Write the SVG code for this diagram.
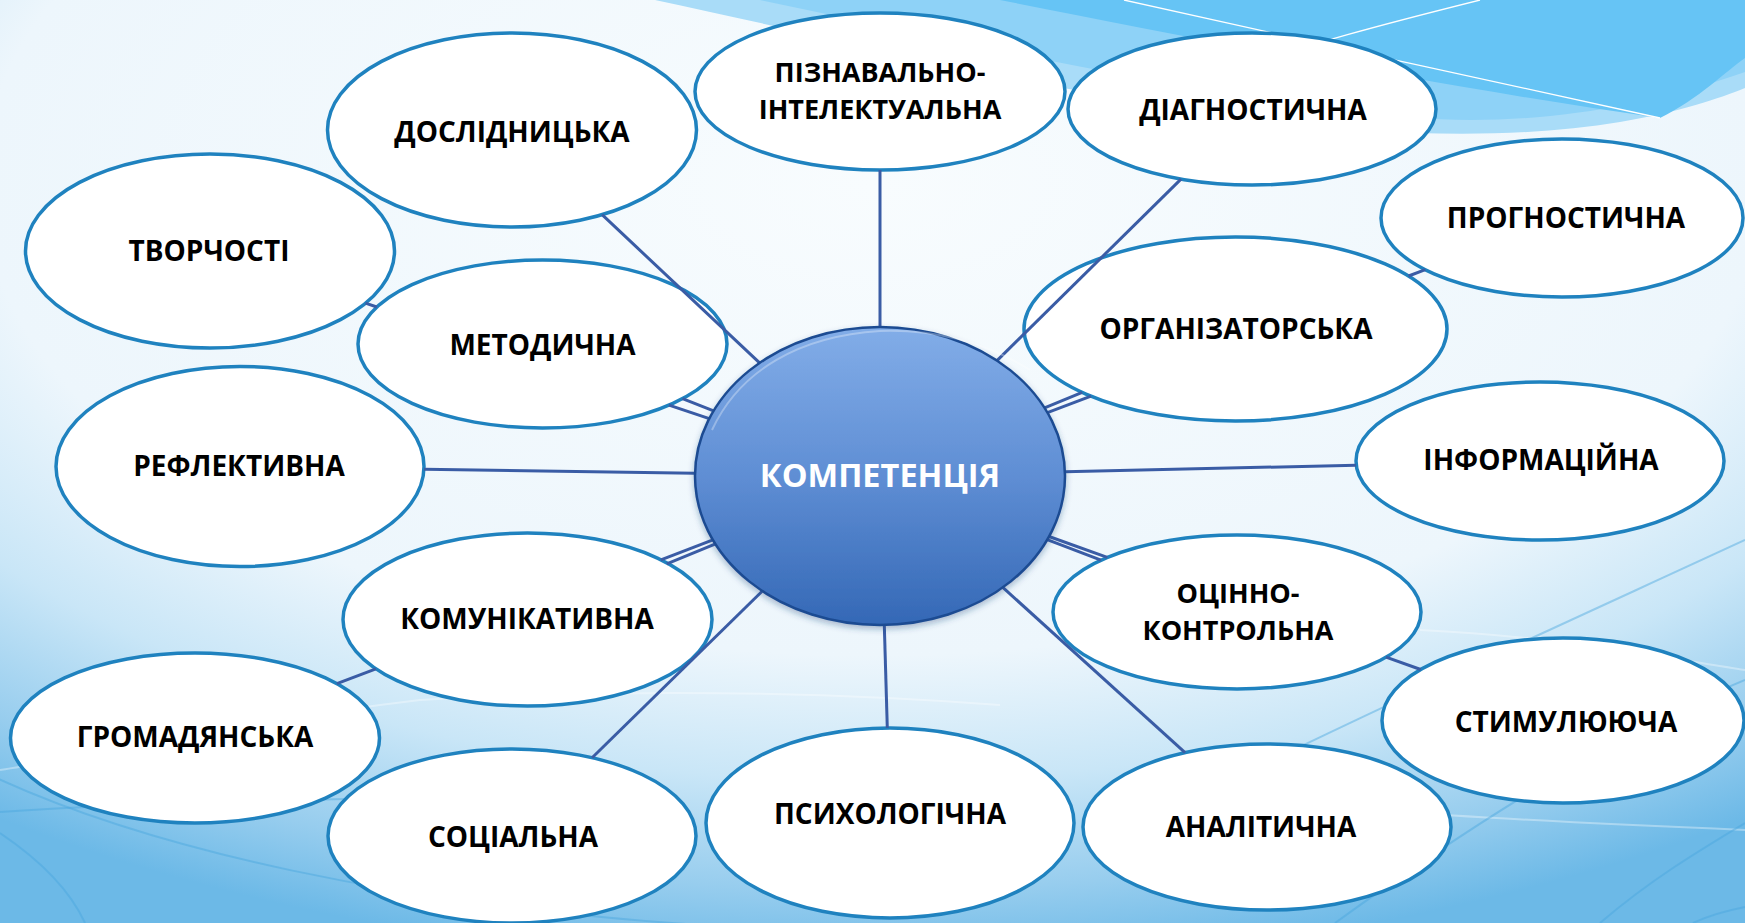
<svg xmlns="http://www.w3.org/2000/svg" width="1745" height="923" viewBox="0 0 1745 923">
<defs>
<style>
.node ellipse{fill:#ffffff;stroke:#1f82bf;stroke-width:3.5}
.lbl{font-family:"Open Sans","DejaVu Sans",sans-serif;font-weight:700;font-size:28px;fill:#000000;text-anchor:middle}
.lbl2{font-size:27px}
.conn line{stroke:#3a5ca5;stroke-width:3;stroke-linecap:butt}
.bgl{fill:none;stroke:#4aa6dd;stroke-width:2;opacity:0.45}
.bgw{fill:none;stroke:#ffffff;stroke-width:2;opacity:0.35}
</style>
<radialGradient id="bg" cx="0.5" cy="0.2" r="0.85">
<stop offset="0" stop-color="#f8fcfe"/>
<stop offset="0.6" stop-color="#edf6fc"/>
<stop offset="0.76" stop-color="#c9e6f7"/>
<stop offset="0.9" stop-color="#97cdee"/>
<stop offset="1" stop-color="#6cb9e7"/>
</radialGradient>
<linearGradient id="cg" x1="0" y1="0" x2="0" y2="1">
<stop offset="0" stop-color="#82ade8"/>
<stop offset="0.5" stop-color="#5f8ed4"/>
<stop offset="1" stop-color="#3468b6"/>
</linearGradient>
<filter id="sh" x="-10%" y="-10%" width="120%" height="125%">
<feDropShadow dx="0" dy="3" stdDeviation="3" flood-color="#1a3f7a" flood-opacity="0.35"/>
</filter>
</defs>

<g id="background">
<rect x="0" y="0" width="1745" height="923" fill="url(#bg)"/>
<path d="M655,0 C820,35 1000,80 1200,112 C1350,135 1500,142 1620,122 C1680,112 1720,98 1745,88 L1745,0 Z" fill="#a9dcf8"/>
<path d="M760,0 C950,40 1150,85 1350,112 C1480,128 1600,122 1745,72 L1745,0 Z" fill="#8ed2f7"/>
<path d="M1000,0 C1200,40 1450,88 1660,118 C1700,98 1725,72 1745,58 L1745,0 Z" fill="#66c4f5"/>
<path d="M1124,0 C1300,40 1500,82 1660,118" fill="none" stroke="#ffffff" stroke-width="1.3"/>
<path d="M1200,82 C1300,45 1400,20 1480,0" fill="none" stroke="#ffffff" stroke-width="1.3"/>
<path class="bgw" d="M0,770 C100,755 250,720 420,700 C600,690 800,690 1000,705"/>
<path class="bgl" d="M-10,775 C150,850 400,905 700,925"/>
<path class="bgl" d="M0,812 C120,804 260,800 420,798"/>
<path class="bgl" d="M0,833 C40,860 70,890 85,923"/>
<path class="bgl" d="M1150,820 C1350,720 1550,630 1745,540"/>
<path class="bgw" d="M1420,630 C1550,636 1650,655 1745,670"/>
<path class="bgw" d="M1150,790 C1350,812 1550,822 1745,830"/>
<path class="bgl" d="M1600,923 C1650,880 1700,850 1745,823"/>
<path class="bgl" d="M1693,923 C1710,915 1730,910 1745,907"/>
<path class="bgl" d="M1335,923 C1450,840 1600,740 1745,680"/>
</g>

<g id="node-tvorchosti" class="node"><ellipse cx="210" cy="251" rx="184.5" ry="97"/><text class="lbl" x="209" y="260.5">ТВОРЧОСТІ</text></g>
<g id="node-doslidnytska" class="node"><ellipse cx="512" cy="130" rx="184.5" ry="97"/><text class="lbl" x="512" y="141.5">ДОСЛІДНИЦЬКА</text></g>
<g id="node-piznavalno" class="node"><ellipse cx="880" cy="91.5" rx="185" ry="78.5"/><text class="lbl lbl2" x="880" y="82">ПІЗНАВАЛЬНО-<tspan x="880" dy="37">ІНТЕЛЕКТУАЛЬНА</tspan></text></g>
<g id="node-diahnostychna" class="node"><ellipse cx="1252" cy="109" rx="184" ry="76"/><text class="lbl" x="1253" y="120">ДІАГНОСТИЧНА</text></g>
<g id="node-prohnostychna" class="node"><ellipse cx="1562" cy="218" rx="181" ry="79"/><text class="lbl" x="1566" y="227.5">ПРОГНОСТИЧНА</text></g>
<g id="node-metodychna" class="node"><ellipse cx="542.5" cy="344" rx="184.5" ry="84"/><text class="lbl" x="542.5" y="354.5">МЕТОДИЧНА</text></g>
<g id="node-orhanizatorska" class="node"><ellipse cx="1235.5" cy="329" rx="211.5" ry="92"/><text class="lbl" x="1236" y="338.5">ОРГАНІЗАТОРСЬКА</text></g>
<g id="node-reflektyvna" class="node"><ellipse cx="240" cy="466.5" rx="184" ry="100"/><text class="lbl" x="239" y="476">РЕФЛЕКТИВНА</text></g>
<g id="node-informatsiina" class="node"><ellipse cx="1540" cy="461" rx="184" ry="79"/><text class="lbl" x="1541" y="470">ІНФОРМАЦІЙНА</text></g>
<g id="node-komunikatyvna" class="node"><ellipse cx="527.5" cy="619.5" rx="184.5" ry="86.5"/><text class="lbl" x="527" y="629">КОМУНІКАТИВНА</text></g>
<g id="node-otsinno" class="node"><ellipse cx="1237" cy="612" rx="184" ry="77"/><text class="lbl lbl2" x="1238" y="603">ОЦІННО-<tspan x="1238" dy="37">КОНТРОЛЬНА</tspan></text></g>
<g id="node-hromadianska" class="node"><ellipse cx="195" cy="738" rx="184.5" ry="85"/><text class="lbl" x="195" y="747">ГРОМАДЯНСЬКА</text></g>
<g id="node-stymuliuiucha" class="node"><ellipse cx="1563" cy="720.5" rx="181" ry="82.5"/><text class="lbl" x="1566" y="731.5">СТИМУЛЮЮЧА</text></g>
<g id="node-sotsialna" class="node"><ellipse cx="512" cy="836" rx="184" ry="87"/><text class="lbl" x="513" y="846.5">СОЦІАЛЬНА</text></g>
<g id="node-psykholohichna" class="node"><ellipse cx="890" cy="823" rx="184" ry="95"/><text class="lbl" x="890" y="824">ПСИХОЛОГІЧНА</text></g>
<g id="node-analitychna" class="node"><ellipse cx="1267" cy="827" rx="184" ry="83"/><text class="lbl" x="1261" y="836.5">АНАЛІТИЧНА</text></g>

<g id="connectors" class="conn">
<line x1="880" y1="327" x2="880" y2="170"/>
<line x1="997" y1="360.6" x2="1181" y2="179.1"/>
<line x1="1047.4" y1="412.7" x2="1091" y2="396.2"/>
<line x1="1408.6" y1="276" x2="1425.3" y2="269.7"/>
<line x1="1044.6" y1="407.9" x2="1082.2" y2="392.4"/>
<line x1="1065" y1="471.8" x2="1356" y2="465.2"/>
<line x1="1047.2" y1="539.7" x2="1101" y2="560.2"/>
<line x1="1049" y1="536.5" x2="1107.3" y2="557.4"/>
<line x1="1386" y1="657.2" x2="1420.7" y2="669.5"/>
<line x1="1002.8" y1="587.4" x2="1185.1" y2="752.7"/>
<line x1="884.3" y1="625" x2="887.3" y2="728"/>
<line x1="762.4" y1="591" x2="592.1" y2="757.7"/>
<line x1="712.9" y1="539.9" x2="660.9" y2="559.8"/>
<line x1="375.9" y1="668.8" x2="336.9" y2="683.7"/>
<line x1="714.9" y1="544.2" x2="666.8" y2="563.8"/>
<line x1="695" y1="473.3" x2="424" y2="469.2"/>
<line x1="713.6" y1="410.9" x2="682.5" y2="398.7"/>
<line x1="709.3" y1="418.7" x2="669" y2="405.1"/>
<line x1="376.8" y1="307" x2="365.5" y2="303.2"/>
<line x1="759.6" y1="362.8" x2="602.1" y2="214.7"/>
</g>

<g id="node-kompetentsiia">
<ellipse cx="880" cy="476" rx="185" ry="149" fill="url(#cg)" stroke="#1c4b92" stroke-width="2.5" filter="url(#sh)"/>
<path d="M712,430 C740,370 800,336 880,331 C940,329 990,345 1030,370" fill="none" stroke="#ffffff" stroke-width="2" opacity="0.3"/>
<text x="880" y="487" font-family="'Open Sans','DejaVu Sans',sans-serif" font-weight="700" font-size="32.5" fill="#ffffff" text-anchor="middle">КОМПЕТЕНЦІЯ</text>
</g>
</svg>
